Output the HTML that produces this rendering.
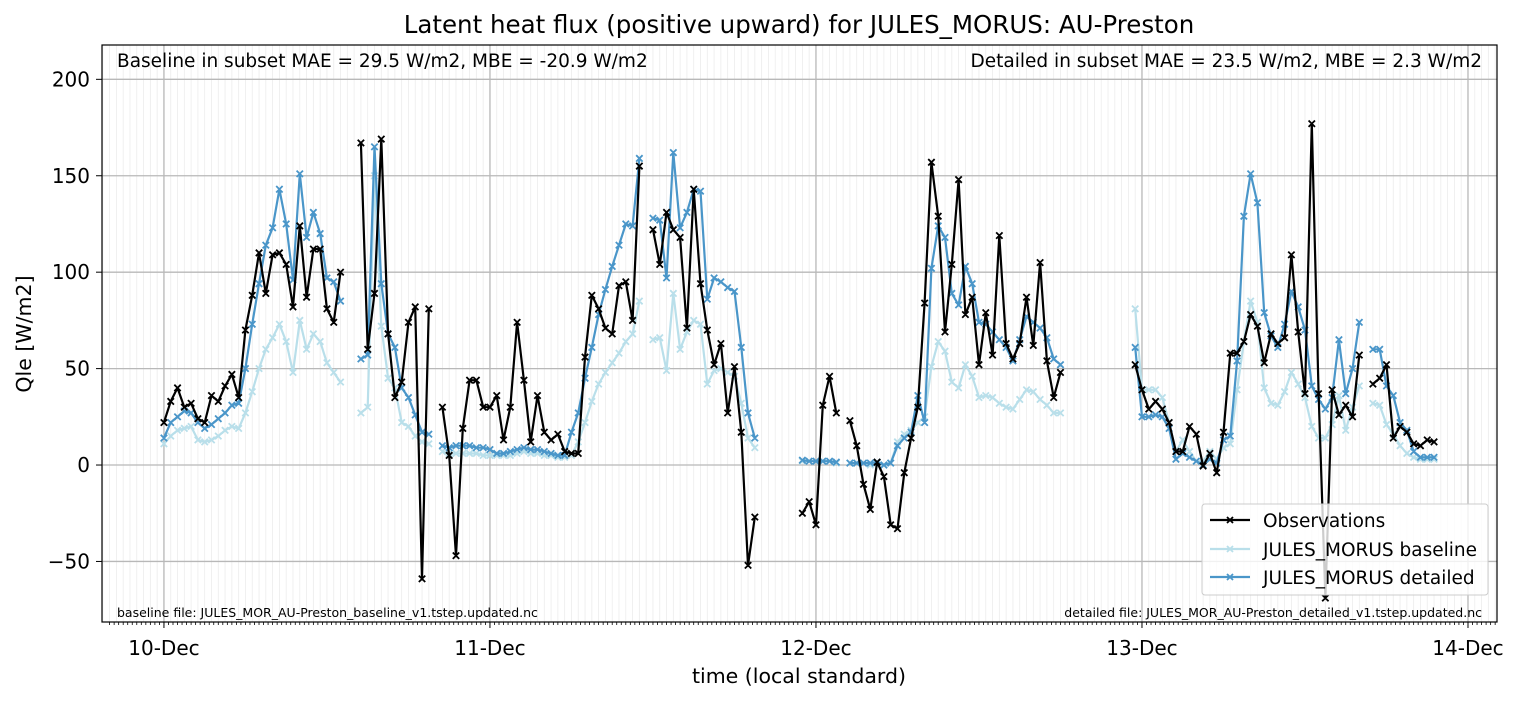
<!DOCTYPE html>
<html><head><meta charset="utf-8"><style>
body{margin:0;background:#fff;}
svg{display:block;font-family:"DejaVu Sans","Liberation Sans",sans-serif;}
</style></head><body>
<svg id="chart" width="1519" height="701" viewBox="0 0 1519 701">
<text x="799" y="33" text-anchor="middle" font-size="24.5">Latent heat flux (positive upward) for JULES_MORUS: AU-Preston</text>
<g id="grid"></g>
<g id="series"></g>
<rect x="102" y="45" width="1395" height="577" fill="none" stroke="#000" stroke-width="1.2"/>
<g id="axes"></g>
<text x="117" y="67" font-size="18.5">Baseline in subset MAE = 29.5 W/m2, MBE = -20.9 W/m2</text>
<text x="1482" y="67" font-size="18.5" text-anchor="end">Detailed in subset MAE = 23.5 W/m2, MBE = 2.3 W/m2</text>
<text x="117" y="617" font-size="12.5">baseline file: JULES_MOR_AU-Preston_baseline_v1.tstep.updated.nc</text>
<text x="1482" y="617" font-size="12.5" text-anchor="end">detailed file: JULES_MOR_AU-Preston_detailed_v1.tstep.updated.nc</text>
<g>
<rect x="1202" y="504" width="286" height="91" rx="3" fill="rgba(255,255,255,0.8)" stroke="#ccc" stroke-width="1"/>
<g><line x1="1210" y1="520" x2="1250" y2="520" stroke="#000" stroke-width="2.2"/><path d="M1227 517l6 6M1233 517l-6 6" stroke="#000" stroke-width="1.8"/><text x="1263" y="527" font-size="18.5">Observations</text></g>
<g><line x1="1210" y1="549" x2="1250" y2="549" stroke="#b9dfea" stroke-width="2.2"/><path d="M1227 546l6 6M1233 546l-6 6" stroke="#b9dfea" stroke-width="1.8"/><text x="1263" y="556" font-size="18.5">JULES_MORUS baseline</text></g>
<g><line x1="1210" y1="577" x2="1250" y2="577" stroke="#4a96c9" stroke-width="2.2"/><path d="M1227 574l6 6M1233 574l-6 6" stroke="#4a96c9" stroke-width="1.8"/><text x="1263" y="584" font-size="18.5">JULES_MORUS detailed</text></g>
</g>
<text x="799" y="683" text-anchor="middle" font-size="20.5">time (local standard)</text>
<text transform="translate(31,334) rotate(-90)" text-anchor="middle" font-size="20.5">Qle [W/m2]</text>
</svg>
<script>
const N=null;
const dayLabels=["10-Dec","11-Dec","12-Dec","13-Dec","14-Dec"];
const yTicks=[-50,0,50,100,150,200];
const obs=[22,33,40,30,32,24,22,36,33,41,47,35,70,88,110,89,109,110,104,82,124,87,112,112,81,74,100,N,N,
167,60,89,169,68,35,43,74,82,-59,81,N,
30,5,-47,19,44,44,30,30,36,13,30,74,44,12,36,17,13,16,7,6,6,56,88,81,71,68,93,95,75,155,N,
122,104,131,122,118,71,143,94,70,52,63,27,51,17,-52,-27,N,N,N,N,N,N,
-25,-19,-31,31,46,27,N,
23,10,-10,-23,1.5,-6,-31,-33,-4,14,30,84,157,129,69,104,148,78,87,52,79,57,119,63,55,63,87,62,105,54,35,48,
N,N,N,N,N,N,N,N,N,N,
52,39,29,33,29,22,7,7,20,16,-0.5,6,-4,17,58,58,64,78,72,53,68,63,66,109,69,37,177,37,-69,39,26,31,25,57,N,
42,45,52,14,20,17,11,10,13,12];
const detailed=[14,22,25,28,27,22,19,21,24,27,31,32,50,73,94,114,123,143,125,96,151,118,131,120,97,95,85,N,N,
55,57,165,94,68,61,40,35,26,17,16,N,
10,9,10,10,10,9,9,8,6,6,7,8,9,8,8,7,6,5,5,17,27,45,61,78,91,103,114,125,124,159,N,
128,127,97,162,123,131,143,142,86,97,95,92,90,61,27,14,N,N,N,N,N,N,
2.5,2,2,2,2,1.5,N,
1,1,1,1,1.5,0,1,10,14,17,36,22,102,124,118,89,83,103,94,74,73,69,65,61,54,65,77,74,71,66,55,52,
N,N,N,N,N,N,N,N,N,N,
61,25,25,26,25,19,3,6,4,2,0,3,1,13,15,54,129,151,136,79,67,61,73,90,82,70,41,34,29,35,65,37,50,74,N,
60,60,41,36,22,18,7,4,4,4];
const baseline=[11,15,18,19,20,13,12,13,15,18,20,19,27,38,50,60,66,73,64,48,75,60,68,64,53,48,43,N,N,
27,30,150,72,45,40,22,20,15,12,11,N,
7,6,6,6,6,6,5,5,5,5,5,6,7,6,6,5,5,4,4,5,12,22,33,42,48,53,58,64,68,85,N,
65,66,49,89,60,69,75,73,42,49,50,48,46,32,14,9,N,N,N,N,N,N,
2,2,2,2,2,1,N,
1,1,1,0,1,0,1,12,16,18,22,25,51,64,59,43,40,52,46,35,36,35,32,30,29,34,39,38,34,31,27,27,
N,N,N,N,N,N,N,N,N,N,
81,39,39,39,35,22,7,13,7,2,2,7,3,9,11,39,64,85,74,40,32,31,38,48,42,35,20,14,14,21,36,18,30,41,N,
32,31,21,16,10,6,4,3,3,3];
const stepsPerDay=48;
const PL=102,PR=1497,PT=45,PB=622;
const X0=-0.19,X1=4.089,Y0=-81.4,Y1=217.8;
function xs(d){return PL+(d-X0)/(X1-X0)*(PR-PL);}
function ys(v){return PB-(v-Y0)/(Y1-Y0)*(PB-PT);}
const NS="http://www.w3.org/2000/svg";
function mk(tag,attrs,parent){const e=document.createElementNS(NS,tag);for(const k in attrs)e.setAttribute(k,attrs[k]);parent.appendChild(e);return e;}
const grid=document.getElementById('grid'),axes=document.getElementById('axes'),ser=document.getElementById('series');
for(let k=-9;k<=4.1*48;k++){const d=k/48;if(d<X0||d>X1)continue;const x=xs(d);
const g=mk('line',{x1:x,x2:x,y1:PT,y2:PB,stroke:'#ececec','stroke-width':0.8},grid);

}
for(let k=-12;k<=4.1*72;k++){const d=k/72;if(d<X0||d>X1)continue;const x=xs(d);
const t=mk('line',{x1:x,x2:x,y1:PB,y2:PB+3,stroke:'#000','stroke-width':0.8},axes);

}
dayLabels.forEach((lab,i)=>{const x=xs(i);
const g=mk('line',{x1:x,x2:x,y1:PT,y2:PB,stroke:'#b8b8b8','stroke-width':1.3},grid);


const t=mk('line',{x1:x,x2:x,y1:PB,y2:PB+6,stroke:'#000','stroke-width':1},axes);


const tx=mk('text',{x:x,y:655,'text-anchor':'middle','font-size':20},axes);tx.textContent=lab;

});
yTicks.forEach(v=>{const y=ys(v);
const g=mk('line',{x1:PL,x2:PR,y1:y,y2:y,stroke:'#b8b8b8','stroke-width':1.3},grid);


const t=mk('line',{x1:PL-6,x2:PL,y1:y,y2:y,stroke:'#000','stroke-width':1},axes);


const tx=mk('text',{x:PL-12,y:y+7,'text-anchor':'end','font-size':20},axes);tx.textContent=String(v).replace('-','\u2212');

});
function drawSeries(vals,color,name,w){
const g=mk('g',{},ser);


let seg=[];const segs=[];
vals.forEach((v,i)=>{if(v===null){if(seg.length)segs.push(seg);seg=[];}else seg.push([xs(i/stepsPerDay),ys(v)]);});
if(seg.length)segs.push(seg);
segs.forEach(s=>{const p=mk('polyline',{points:s.map(q=>q[0].toFixed(1)+','+q[1].toFixed(1)).join(' '),fill:'none',stroke:color,'stroke-width':w,'stroke-linejoin':'round'},g);

});
let d='';vals.forEach((v,i)=>{if(v===null)return;const x=xs(i/stepsPerDay),y=ys(v);d+=`M${x-3.2} ${y-3.2}l6.4 6.4M${x+3.2} ${y-3.2}l-6.4 6.4`;});
const m=mk('path',{d:d,stroke:color,'stroke-width':1.8,fill:'none'},g);

}
drawSeries(baseline,'#b9dfea','baseline-series',2.2);
drawSeries(detailed,'#4a96c9','detailed-series',2.2);
drawSeries(obs,'#000000','observations-series',2.2);
</script>
</body></html>
